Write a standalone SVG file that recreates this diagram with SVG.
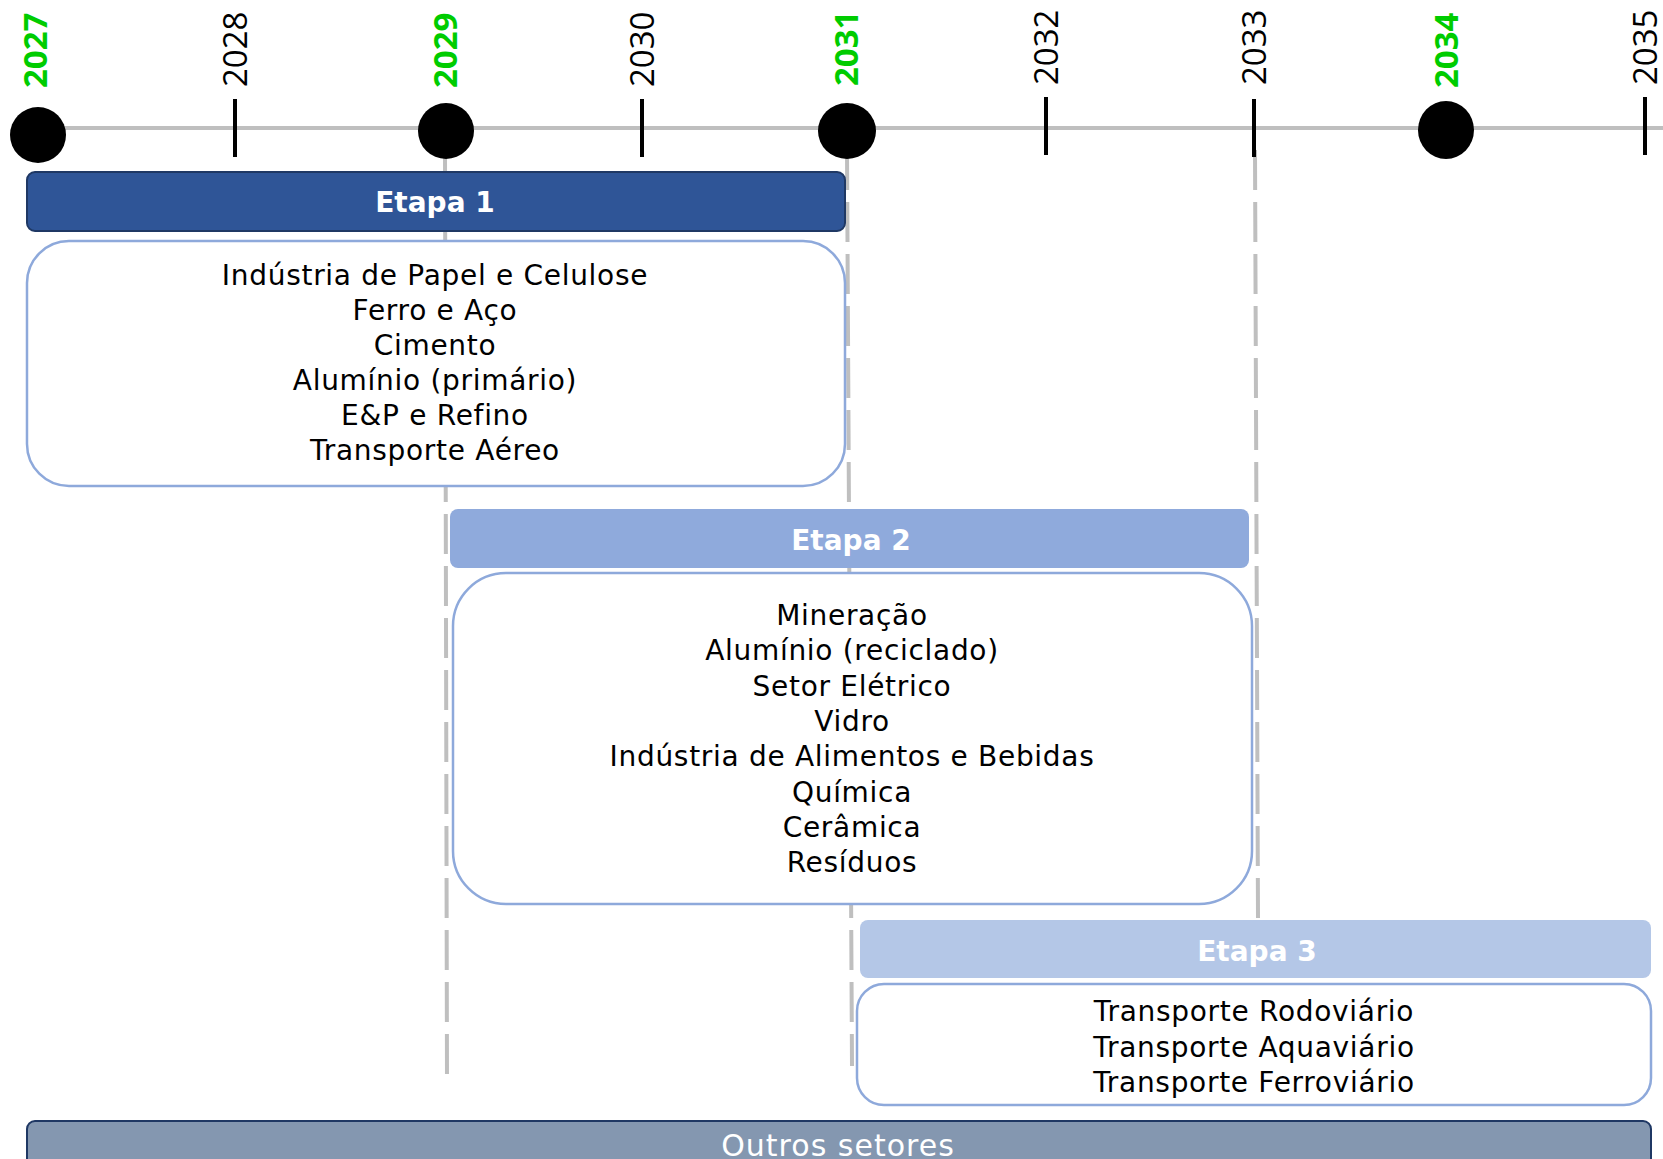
<svg xmlns="http://www.w3.org/2000/svg" width="1663" height="1159" viewBox="0 0 1663 1159">
<style>
.yr{font-family:"Open Sans","Noto Sans",sans-serif;font-size:33px;fill:#000}
.yrb{font-family:"Open Sans","Noto Sans",sans-serif;font-size:33px;font-weight:700;fill:#00CC00}
.tick{stroke:#000;stroke-width:4}
.dash{stroke:#BFBFBF;stroke-width:4;stroke-dasharray:40 12;fill:none}
.dot{fill:#000}
.hd{font-family:"DejaVu Sans",sans-serif;font-size:28px;font-weight:700;fill:#fff;text-anchor:middle}
.box{fill:#fff;stroke:#8EA9DB;stroke-width:2.5}
.it{font-family:"DejaVu Sans",sans-serif;font-size:28px;letter-spacing:0.7px;fill:#000;text-anchor:middle}
</style>
<g id="connectors">
<line x1="37" y1="128" x2="1663" y2="128" stroke="#BFBFBF" stroke-width="4"/>
<line class="dash" x1="445" y1="150" x2="447" y2="1082"/>
<line class="dash" x1="847" y1="150" x2="852" y2="1066"/>
<line class="dash" x1="1255" y1="150" x2="1258" y2="920"/>
</g>
<g id="ticks">
<line class="tick" x1="235" y1="99" x2="235" y2="157"/>
<line class="tick" x1="642" y1="99" x2="642" y2="157"/>
<line class="tick" x1="1046" y1="97" x2="1046" y2="155"/>
<line class="tick" x1="1254" y1="99" x2="1254" y2="157"/>
<line class="tick" x1="1645" y1="97" x2="1645" y2="155"/>
</g>
<g id="milestones">
<circle class="dot" cx="38" cy="135" r="28"/>
<circle class="dot" cx="446" cy="131" r="28"/>
<ellipse class="dot" cx="847" cy="131" rx="29" ry="28"/>
<ellipse class="dot" cx="1446" cy="130" rx="28" ry="29"/>
</g>
<g id="year-labels">
<text class="yrb" transform="translate(47,88) rotate(-90)">2027</text>
<text class="yr" transform="translate(247,87) rotate(-90)">2028</text>
<text class="yrb" transform="translate(457,88) rotate(-90)">2029</text>
<text class="yr" transform="translate(654,87) rotate(-90)">2030</text>
<text class="yrb" transform="translate(858,86) rotate(-90)">2031</text>
<text class="yr" transform="translate(1058,85) rotate(-90)">2032</text>
<text class="yr" transform="translate(1266,85) rotate(-90)">2033</text>
<text class="yrb" transform="translate(1458,88) rotate(-90)">2034</text>
<text class="yr" transform="translate(1657,85) rotate(-90)">2035</text>
</g>
<g id="etapa1">
<rect x="27" y="172" width="818" height="59" rx="8" fill="#2F5597" stroke="#1F3864" stroke-width="2"/>
<text class="hd" x="435" y="212">Etapa 1</text>
</g>
<g id="etapa1-box">
<rect class="box" x="27" y="241" width="818" height="245" rx="42"/>
<text class="it" x="435" y="285">Indústria de Papel e Celulose</text>
<text class="it" x="435" y="320">Ferro e Aço</text>
<text class="it" x="435" y="355">Cimento</text>
<text class="it" x="435" y="390">Alumínio (primário)</text>
<text class="it" x="435" y="425">E&amp;P e Refino</text>
<text class="it" x="435" y="460">Transporte Aéreo</text>
</g>
<g id="etapa2">
<rect x="450" y="509" width="799" height="59" rx="8" fill="#8FAADC"/>
<text class="hd" x="851" y="550">Etapa 2</text>
</g>
<g id="etapa2-box">
<rect class="box" x="453" y="573" width="799" height="331" rx="53"/>
<text class="it" x="852" y="625">Mineração</text>
<text class="it" x="852" y="660">Alumínio (reciclado)</text>
<text class="it" x="852" y="696">Setor Elétrico</text>
<text class="it" x="852" y="731">Vidro</text>
<text class="it" x="852" y="766">Indústria de Alimentos e Bebidas</text>
<text class="it" x="852" y="802">Química</text>
<text class="it" x="852" y="837">Cerâmica</text>
<text class="it" x="852" y="872">Resíduos</text>
</g>
<g id="etapa3">
<rect x="860" y="920" width="791" height="58" rx="8" fill="#B4C7E7"/>
<text class="hd" x="1257" y="961">Etapa 3</text>
</g>
<g id="etapa3-box">
<rect class="box" x="857" y="984" width="794" height="121" rx="27"/>
<text class="it" x="1254" y="1021">Transporte Rodoviário</text>
<text class="it" x="1254" y="1057">Transporte Aquaviário</text>
<text class="it" x="1254" y="1092">Transporte Ferroviário</text>
</g>
<g id="outros">
<rect x="27" y="1121" width="1624" height="60" rx="8" fill="#8497B0" stroke="#1F3864" stroke-width="2"/>
<text x="838" y="1156" font-family="'DejaVu Sans',sans-serif" font-size="30" letter-spacing="1" fill="#fff" text-anchor="middle">Outros setores</text>
</g>
</svg>
